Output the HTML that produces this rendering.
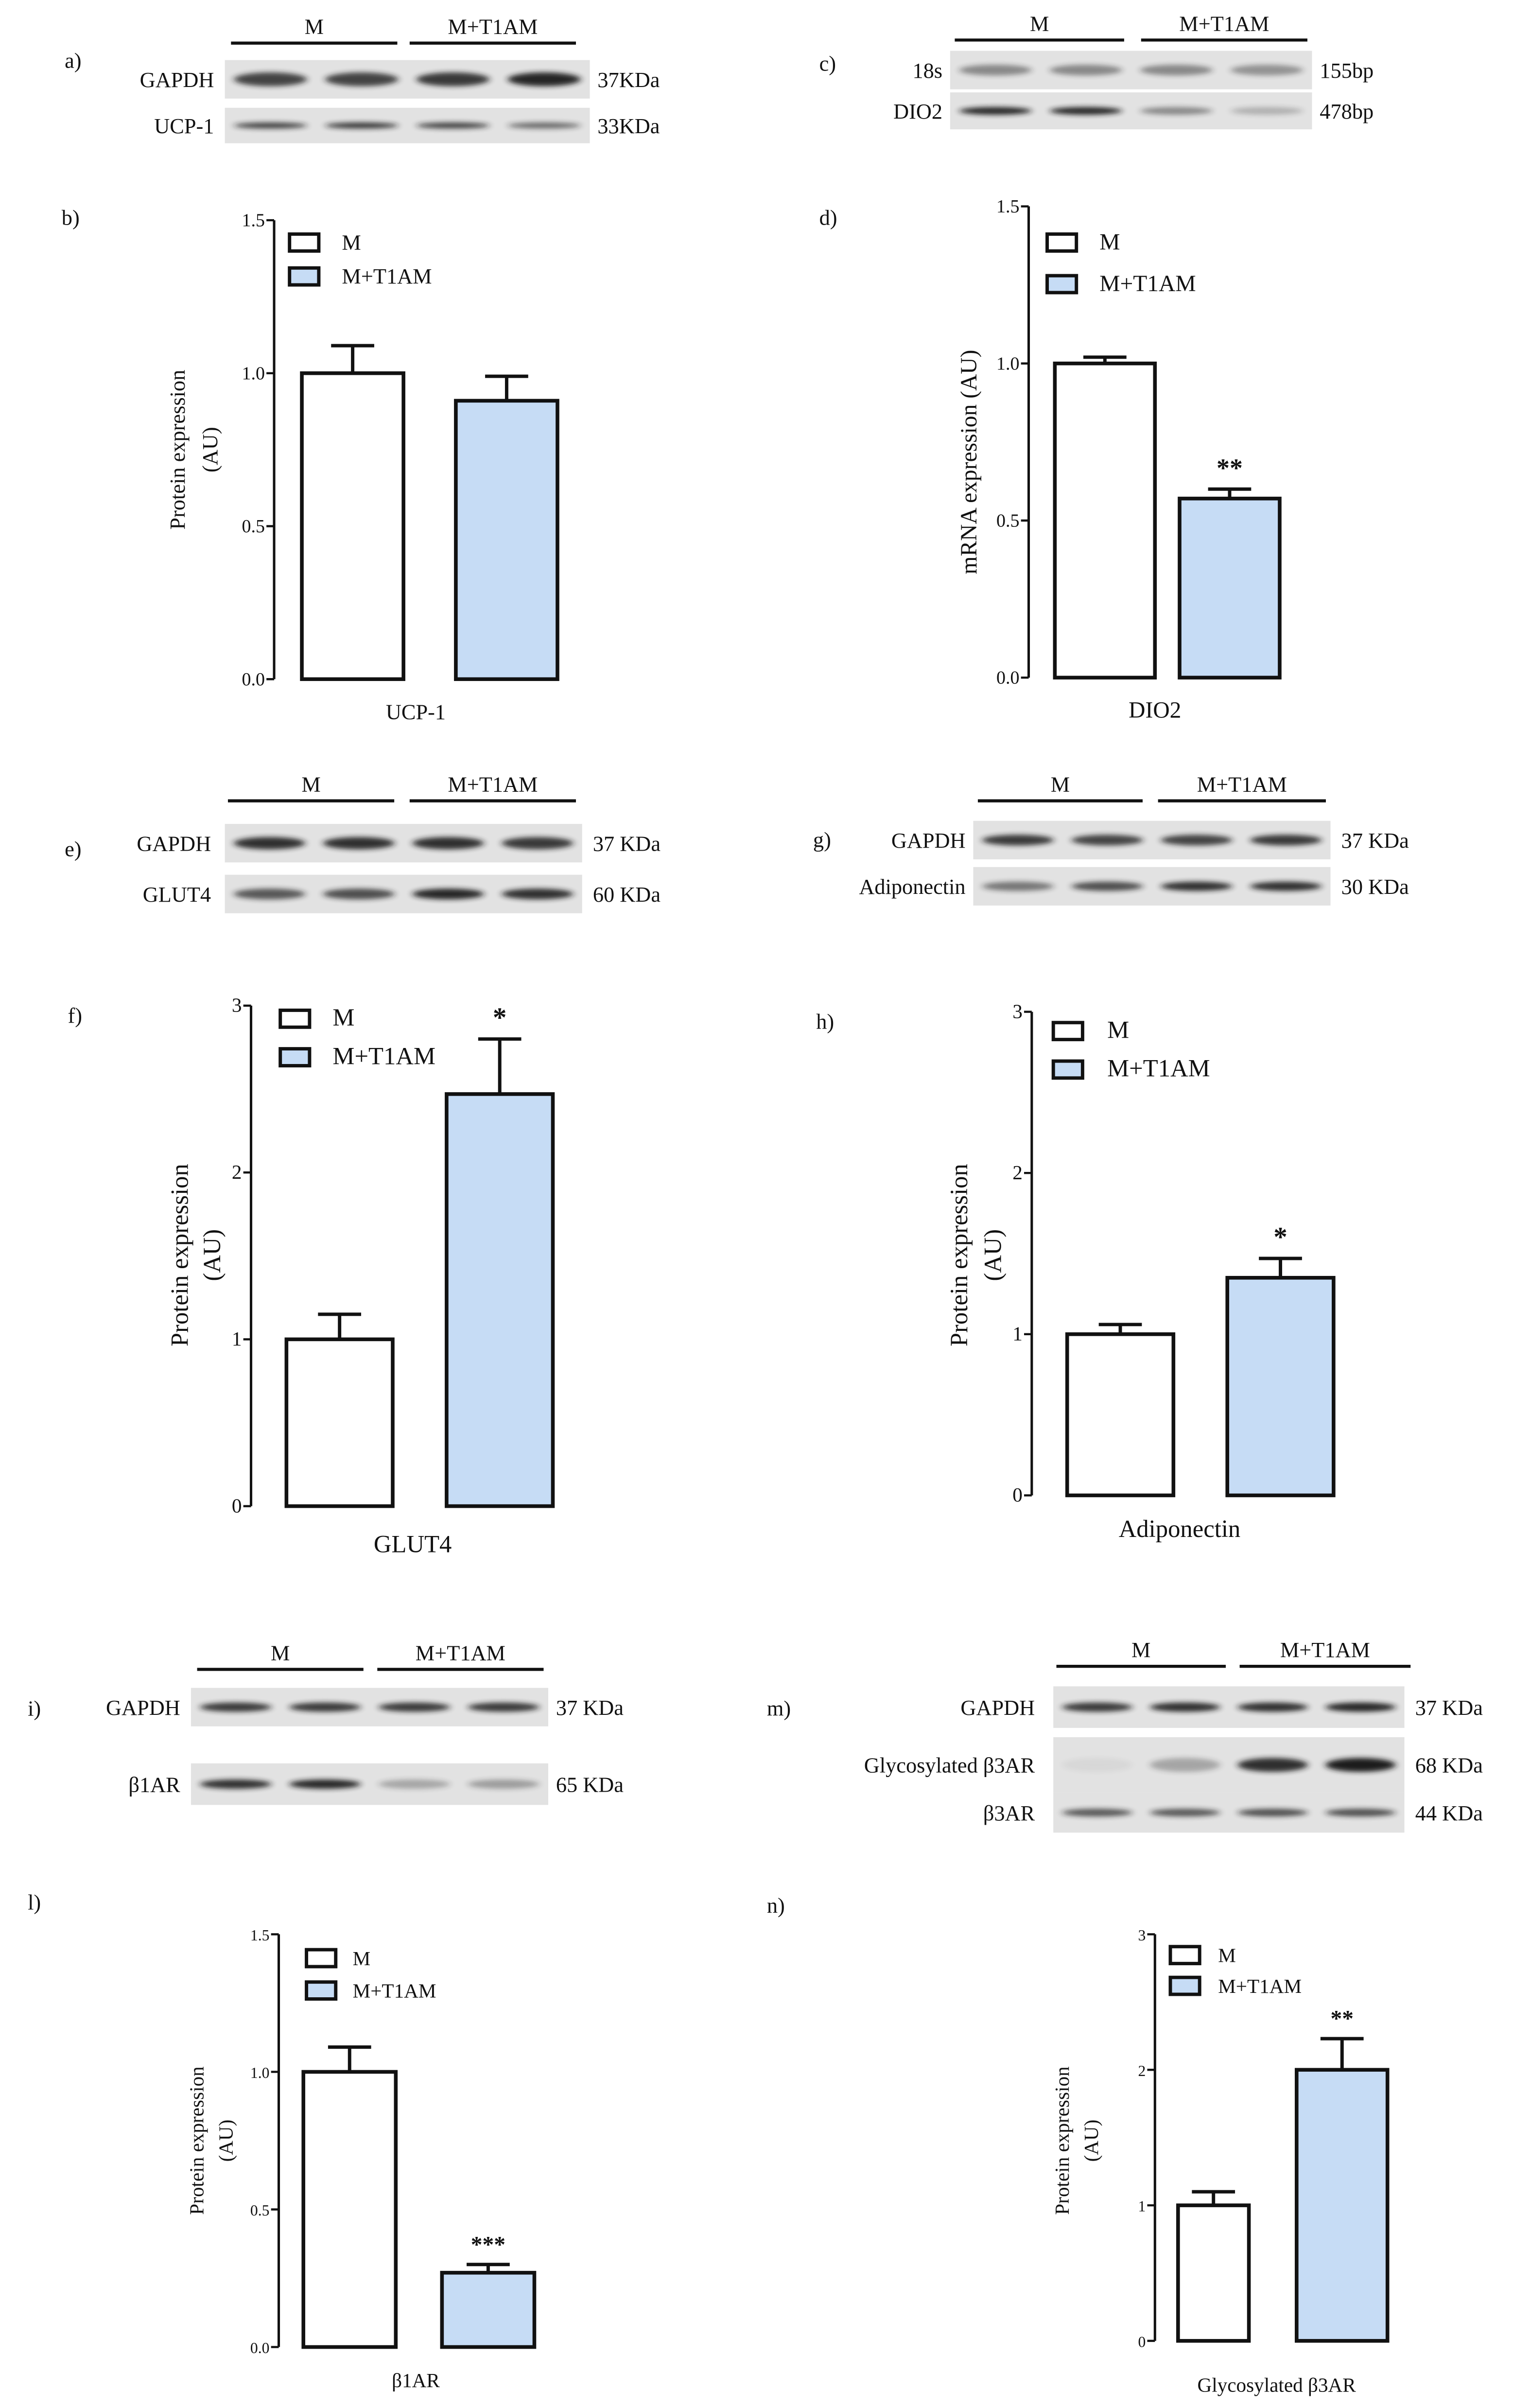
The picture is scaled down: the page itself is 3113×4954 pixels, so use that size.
<!DOCTYPE html>
<html><head><meta charset="utf-8">
<style>
html,body{margin:0;padding:0;background:#fff;}
svg{display:block;}
</style></head>
<body>
<svg id="fig" width="3113" height="4954" viewBox="0 0 982.5 1563.6" xmlns="http://www.w3.org/2000/svg" font-family="'Liberation Serif', 'DejaVu Serif', serif">
<defs>
<filter id="blur" x="-20%" y="-100%" width="140%" height="300%"><feGaussianBlur stdDeviation="2.2 1.6"/></filter>
</defs>
<g id="root" font-family="'Liberation Serif', 'DejaVu Serif', serif" fill="#111"></g>
</svg>
<script>
// ---- chart data ----
const groupNames = ["M", "M+T1AM"];
const ucpValues = [1.0, 0.91];
const ucpErrors = [0.09, 0.08];
const dioValues = [1.0, 0.57];
const dioErrors = [0.02, 0.03];
const glutValues = [1.0, 2.47];
const glutErrors = [0.15, 0.33];
const adipoValues = [1.0, 1.35];
const adipoErrors = [0.06, 0.12];
const b1Values = [1.0, 0.27];
const b1Errors = [0.09, 0.03];
const b3Values = [1.0, 2.0];
const b3Errors = [0.1, 0.23];
const ticks15 = ["0.0", "0.5", "1.0", "1.5"];
const ticks3 = ["0", "1", "2", "3"];

const NS = "http://www.w3.org/2000/svg";
const root = document.getElementById('root');
function el(tag, attrs, parent, txt) {
  const e = document.createElementNS(NS, tag);
  for (const k in attrs) e.setAttribute(k, attrs[k]);
  if (txt !== undefined) e.textContent = txt;
  (parent || root).appendChild(e);
  return e;
}

// ---- bar charts ----
const charts = [
  {id:"ucp1", vals:ucpValues, errs:ucpErrors, ticks:ticks15, max:1.5, ax:178, top:143, bot:441, bars:[[196,262],[296,362]], sig:"",
   leg:[188,152,174,222], xl:["UCP-1",270,467], yt:["Protein expression","(AU)"], ytx:[120,141], yc:292, fs:14, tfs:12},
  {id:"dio2", vals:dioValues, errs:dioErrors, ticks:ticks15, max:1.5, ax:668, top:134, bot:440, bars:[[685,750],[766,831]], sig:"**",
   leg:[680,152,179,714], xl:["DIO2",750,466], yt:["mRNA expression (AU)"], ytx:[634], yc:300, fs:15, tfs:12},
  {id:"glut4", vals:glutValues, errs:glutErrors, ticks:ticks3, max:3, ax:163, top:653, bot:978, bars:[[186,255],[290,359]], sig:"*",
   leg:[182,656,681,216], xl:["GLUT4",268,1008], yt:["Protein expression","(AU)"], ytx:[122,143], yc:815, fs:16, tfs:13},
  {id:"adiponectin", vals:adipoValues, errs:adipoErrors, ticks:ticks3, max:3, ax:670, top:657, bot:971, bars:[[693,762],[797,866]], sig:"*",
   leg:[684,664,689,719], xl:["Adiponectin",766,998], yt:["Protein expression","(AU)"], ytx:[628,650], yc:815, fs:16, tfs:13},
  {id:"b1ar", vals:b1Values, errs:b1Errors, ticks:ticks15, max:1.5, ax:181, top:1256, bot:1524, bars:[[197,257],[287,347]], sig:"***",
   leg:[199,1266,1287,229], xl:["β1AR",270,1550], yt:["Protein expression","(AU)"], ytx:[132,151], yc:1390, fs:13, tfs:10},
  {id:"b3ar", vals:b3Values, errs:b3Errors, ticks:ticks3, max:3, ax:750, top:1256, bot:1520, bars:[[765,811],[842,901]], sig:"**",
   leg:[760,1264,1284,791], xl:["Glycosylated β3AR",829,1553], yt:["Protein expression","(AU)"], ytx:[694,713], yc:1390, fs:13, tfs:10}
];

charts.forEach(c => {
  const g = el('g', {});
  
  
  const y = v => c.bot - (v / c.max) * (c.bot - c.top);
  const yAxis = el('line', {x1:c.ax, y1:c.top, x2:c.ax, y2:c.bot, stroke:'#111', 'stroke-width':1.6}, g);
  
  
  c.ticks.forEach((t, i) => {
    const v = i * c.max / (c.ticks.length - 1);
    el('line', {x1:c.ax-5, y1:y(v), x2:c.ax, y2:y(v), stroke:'#111', 'stroke-width':1.4}, g);
    const tl = el('text', {x:c.ax-6, y:y(v)+4, 'text-anchor':'end', 'font-size':c.tfs}, g, t);
    
    
  });
  c.vals.forEach((v, i) => {
    const [x1, x2] = c.bars[i];
    const cx = (x1 + x2) / 2;
    const e = el('line', {x1:cx, y1:y(v), x2:cx, y2:y(v + c.errs[i]), stroke:'#111', 'stroke-width':2.2}, g);
    
    
    const cap = el('line', {x1:cx-14, y1:y(v + c.errs[i]), x2:cx+14, y2:y(v + c.errs[i]), stroke:'#111', 'stroke-width':2.2}, g);
    
    
    const r = el('rect', {x:x1, y:y(v), width:x2-x1, height:c.bot-y(v), fill: i ? '#c6dcf5' : '#fff', stroke:'#111', 'stroke-width':2.4}, g);
    
    
    if (i === 1 && c.sig) {
      const s = el('text', {x:cx, y:y(v + c.errs[i]) - 8, 'text-anchor':'middle', 'font-size':c.fs+2, 'font-weight':'bold'}, g, c.sig);
      
      
    }
  });
  [c.leg[1], c.leg[2]].forEach((ly, i) => {
    const lb = el('rect', {x:c.leg[0], y:ly, width:19, height:11, fill: i ? '#c6dcf5' : '#fff', stroke:'#111', 'stroke-width':2.2}, g);
    
    
    const lt = el('text', {x:c.leg[3], y:ly+10, 'font-size':c.fs}, g, groupNames[i]);
    
    
  });
  const xl = el('text', {x:c.xl[1], y:c.xl[2], 'text-anchor':'middle', 'font-size':c.fs}, g, c.xl[0]);
  
  
  c.yt.forEach((t, i) => {
    const yt = el('text', {x:c.ytx[i], y:c.yc, 'text-anchor':'middle', 'font-size':c.fs, transform:`rotate(-90 ${c.ytx[i]} ${c.yc})`}, g, t);
    
    
  });
});

// ---- blots (image-like, not data) ----
const blots = [
  {id:"a", lines:[[150,258],[266,374]], ly:28, rows:[
    {label:"GAPDH", kda:"37KDa", x:146, w:237, y:39, h:25, bands:[.8,.8,.85,.95], bh:9},
    {label:"UCP-1", kda:"33KDa", x:146, w:237, y:70, h:23, bands:[.8,.85,.8,.6], bh:4}], lx:139, kx:388, fs:14},
  {id:"c", lines:[[620,730],[741,849]], ly:26, rows:[
    {label:"18s", kda:"155bp", x:617, w:235, y:33, h:25, bands:[.45,.45,.45,.4], bh:7},
    {label:"DIO2", kda:"478bp", x:617, w:235, y:60, h:24, bands:[.95,.95,.45,.25], bh:5}], lx:612, kx:857, fs:14},
  {id:"e", lines:[[148,256],[266,374]], ly:520, rows:[
    {label:"GAPDH", kda:"37 KDa", x:146, w:232, y:535, h:25, bands:[.9,.9,.9,.85], bh:8},
    {label:"GLUT4", kda:"60 KDa", x:146, w:232, y:568, h:25, bands:[.7,.75,.95,.9], bh:7}], lx:137, kx:385, fs:14},
  {id:"g", lines:[[635,742],[752,861]], ly:520, rows:[
    {label:"GAPDH", kda:"37 KDa", x:632, w:232, y:533, h:25, bands:[.85,.8,.8,.85], bh:7},
    {label:"Adiponectin", kda:"30 KDa", x:632, w:232, y:563, h:25, bands:[.55,.75,.9,.9], bh:6}], lx:627, kx:871, fs:14},
  {id:"i", lines:[[128,236],[245,353]], ly:1084, rows:[
    {label:"GAPDH", kda:"37 KDa", x:124, w:232, y:1096, h:25, bands:[.85,.85,.85,.85], bh:6},
    {label:"β1AR", kda:"65 KDa", x:124, w:232, y:1145, h:27, bands:[.9,.95,.3,.35], bh:6}], lx:117, kx:361, fs:14},
  {id:"m", lines:[[686,796],[805,916]], ly:1082, rows:[
    {label:"GAPDH", kda:"37 KDa", x:684, w:228, y:1095, h:27, bands:[.85,.9,.9,.95], bh:6},
    {label:"Glycosylated β3AR", kda:"68 KDa", x:684, w:228, y:1128, h:36, bands:[.05,.3,.9,1], bh:9},
    {label:"β3AR", kda:"44 KDa", x:684, w:228, y:1164, h:26, bands:[.7,.7,.75,.75], bh:5}], lx:672, kx:919, fs:14}
];
blots.forEach(b => {
  const g = el('g', {});
  
  
  b.lines.forEach((ln, i) => {
    el('line', {x1:ln[0], y1:b.ly, x2:ln[1], y2:b.ly, stroke:'#111', 'stroke-width':2}, g);
    const t = el('text', {x:(ln[0]+ln[1])/2, y:b.ly-6, 'text-anchor':'middle', 'font-size':b.fs}, g, groupNames[i]);
    
    
  });
  b.rows.forEach(r => {
    el('rect', {x:r.x, y:r.y, width:r.w, height:r.h, fill:'#e2e2e2'}, g);
    const lw = r.w / 4;
    r.bands.forEach((o, k) => {
      el('ellipse', {cx:r.x + lw*(k+0.5), cy:r.y + r.h/2, rx:lw*0.4, ry:r.bh/2, fill:'#1a1a1a', opacity:o, filter:'url(#blur)'}, g);
    });
    const lt = el('text', {x:b.lx, y:r.y + r.h/2 + 5, 'text-anchor':'end', 'font-size':b.fs}, g, r.label);
    
    
    const kt = el('text', {x:b.kx, y:r.y + r.h/2 + 5, 'font-size':b.fs}, g, r.kda);
    
    
  });
});

// ---- panel letters ----
const letters = [["a)",42,44],["b)",40,146],["c)",532,46],["d)",532,146],["e)",42,556],["f)",44,664],["g)",528,550],["h)",530,668],["i)",18,1114],["l)",18,1240],["m)",498,1114],["n)",498,1242]];
letters.forEach(l => {
  const t = el('text', {x:l[1], y:l[2], 'font-size':14}, root, l[0]);
  
  
});
</script>
</body></html>
